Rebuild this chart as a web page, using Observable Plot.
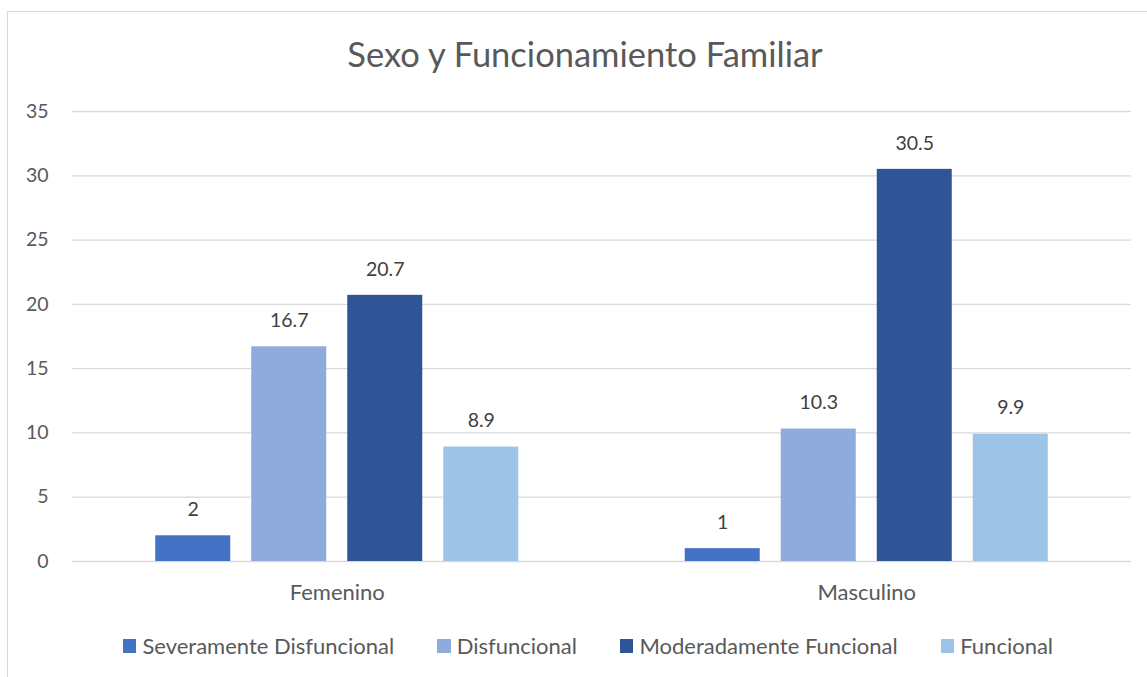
<!DOCTYPE html>
<html>
<head>
<meta charset="utf-8">
<script src="https://cdn.jsdelivr.net/npm/d3@7"></script>
<script src="https://cdn.jsdelivr.net/npm/@observablehq/plot@0.6"></script>
<style>
  html, body { margin: 0; padding: 0; background: #fff; overflow: hidden; }
  body { width: 1147px; height: 677px; position: relative; font-family: Lato, "Open Sans", sans-serif; color: #595959; }
  #frame { position: absolute; left: 7px; top: 11px; width: 1200px; height: 700px; border: 1.5px solid #d9d9d9; box-sizing: border-box; }
  #title { position: absolute; left: 0; top: 0; width: 1170px; height: 80px; text-align: center; font-size: 34.5px; line-height: 1; padding-top: 37px; box-sizing: border-box; color: #595959; }
  #chart { position: absolute; left: 0; top: 80px; }
  #legend { position: absolute; left: 0; top: 620px; width: 1176px; height: 50px; display: flex; justify-content: center; align-items: center; gap: 43px; font-size: 22px; color: #595959; padding-bottom: 0px; box-sizing: border-box; }
  .item { display: flex; align-items: center; }
  .sw { width: 13.5px; height: 13.5px; margin-right: 6px; margin-top: 2px; }
</style>
</head>
<body>
<div id="frame"></div>
<div id="title">Sexo y Funcionamiento Familiar</div>
<div id="chart"></div>
<div id="legend"></div>
<script>
const categories = ["Femenino", "Masculino"];
const series = ["Severamente Disfuncional", "Disfuncional", "Moderadamente Funcional", "Funcional"];
const femenino = [2, 16.7, 20.7, 8.9];
const masculino = [1, 10.3, 30.5, 9.9];
const colors = ["#4472C4", "#8FAADC", "#2F5597", "#9DC3E6"];
const yTicks = [0, 5, 10, 15, 20, 25, 30, 35];

const valuesByCategory = [femenino, masculino];
const data = [];
categories.forEach((c, i) => {
  series.forEach((s, j) => {
    data.push({ sexo: c, serie: s, valor: valuesByCategory[i][j] });
  });
});

const plot = Plot.plot({
  width: 1147,
  height: 530,
  marginLeft: 72,
  marginRight: 16,
  marginTop: 31,
  marginBottom: 49,
  style: { fontFamily: "Lato, 'Open Sans', sans-serif", color: "#595959", background: "transparent" },
  fx: { domain: categories, paddingInner: 0, paddingOuter: 0, round: false },
  x: { domain: series, paddingInner: 0.21875, paddingOuter: 0.867, round: false, axis: null },
  y: { domain: [0, 35], range: [481, 31] },
  color: { domain: series, range: colors },
  marks: [
    Plot.ruleY(yTicks, { stroke: "#d9d9d9", strokeWidth: 1.3 }),
    Plot.barY(data, { fx: "sexo", x: "serie", y: "valor", fill: "serie", inset: 0 }),
    Plot.text(data, { fx: "sexo", x: "serie", y: "valor", text: d => String(d.valor), dy: -26, fontSize: 19.5, fill: "#404040" }),
    Plot.axisY({ ticks: yTicks, tickSize: 0, tickPadding: 24, fontSize: 19.5, label: null, tickFormat: d => String(d) }),
    Plot.axisFx({ anchor: "bottom", tickSize: 0, tickPadding: 23, fontSize: 22, label: null })
  ]
});
document.getElementById("chart").appendChild(plot);

const legend = document.getElementById("legend");
series.forEach((s, i) => {
  const item = document.createElement("div");
  item.className = "item";
  const sw = document.createElement("span");
  sw.className = "sw";
  sw.style.background = colors[i];
  const lbl = document.createElement("span");
  lbl.textContent = s;
  item.appendChild(sw);
  item.appendChild(lbl);
  legend.appendChild(item);
});
</script>
</body>
</html>
